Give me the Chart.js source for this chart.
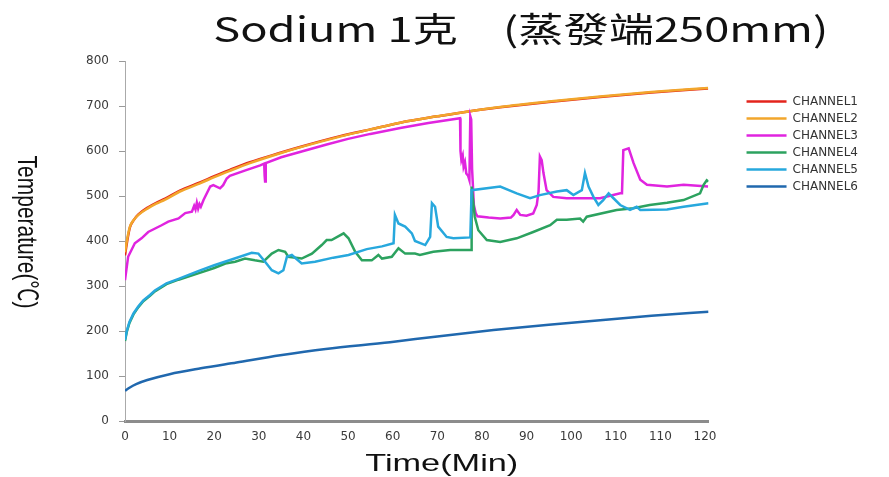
<!DOCTYPE html>
<html>
<head>
<meta charset="utf-8">
<title>Sodium 1克 (蒸發端250mm)</title>
<script src="https://cdn.jsdelivr.net/npm/chart.js@4.4.1/dist/chart.umd.min.js"></script>
<style>
  body { margin: 0; background: #fff; }
</style>
</head>
<body>
<canvas id="chart" width="889" height="477"></canvas>
<script>
const mainTitle = "Sodium 1克\u3000(蒸發端250mm)";
const xTitle = "Time(Min)";
const yTitle = "Temperature(℃)";
const channelNames = ["CHANNEL1", "CHANNEL2", "CHANNEL3", "CHANNEL4", "CHANNEL5", "CHANNEL6"];
const channelColors = ["#e3241c", "#f2a62c", "#e024df", "#2ca25f", "#27a8dd", "#2068ae"];
// the original axis is labelled with two "110" ticks, so the labels are kept as they are
const xTickLabels = ["0", "10", "20", "30", "40", "50", "60", "70", "80", "90", "100", "110", "110", "120"];

// [time position, temperature]
const channel1 = [[0,368],[0.5,400],[1.1,430],[2,447],[3,459],[5.2,475],[7,485],[9,494],[12.3,512],[16.8,530],[20,544],[23.5,558],[28,575],[34.8,596],[39.2,609],[48.2,633],[55,648],[61.7,663],[70,677],[77,688],[84.1,697],[95,709],[106.5,720],[118,730],[130.7,739]];
const channel2 = [[0,375],[0.5,405],[1.1,432],[2,447],[3,458],[5.2,473],[7,483],[9,492],[12.3,510],[16.8,528],[20,542],[23.5,556],[28,573],[34.8,595],[39.2,608],[48.2,632],[55,648],[61.7,663],[70,677],[77,688],[84.1,698],[95,710],[106.5,721],[118,731],[130.7,740]];
const channel3 = [[0,313],[0.7,365],[2.2,395],[3.7,406],[5.2,420],[8.2,435],[9.7,443],[12,450],[13.5,462],[15,465],[15.5,478],[15.8,470],[16.1,485],[16.4,472],[16.7,482],[17,476],[17.6,491],[19.1,521],[19.8,524],[21.3,517],[22,524],[22.8,539],[23.5,545],[27,557],[30.3,568],[31.2,572],[31.3,545],[31.4,532],[31.5,558],[31.6,573],[35,586],[40,600],[45,614],[50,627],[55,638],[61.7,651],[68,662],[75.1,673],[75.2,600],[75.4,580],[75.7,590],[75.9,565],[76.2,575],[76.5,550],[76.9,545],[77.2,535],[77.4,677],[77.6,670],[77.8,560],[78.2,480],[78.6,462],[79,455],[81.5,452],[84.1,450],[86.5,452],[87.1,458],[87.8,469],[88.6,458],[90,456],[91.5,461],[92.3,480],[92.7,510],[93,588],[93.4,580],[93.8,551],[94.5,513],[96,498],[99,495],[106.5,495],[111,506],[111.4,506],[111.7,602],[112.9,606],[114,573],[115.5,536],[117,525],[121.5,521],[125.2,525],[130.7,521]];
const channel4 = [[0,178],[0.4,198],[1,218],[1.9,237],[3,253],[4.1,266],[5.6,278],[6.7,288],[9.3,304],[12,314],[16.4,328],[20,340],[22.5,350],[24.7,354],[26.9,361],[29.1,357],[31,354],[32.9,372],[34.4,380],[35.9,376],[36.6,365],[39.6,361],[41.9,372],[44.1,391],[45.2,402],[46.3,402],[49,417],[50.1,406],[51.6,376],[53.1,357],[55.3,357],[56.8,369],[57.6,361],[59.8,365],[61.3,384],[62.8,372],[65,372],[66.1,369],[69.1,376],[72.9,380],[77.6,380],[77.7,521],[78.4,454],[79.2,424],[81.1,402],[84.1,398],[87.8,406],[91.5,420],[95.3,435],[96.8,447],[99,447],[102,450],[102.7,443],[103.5,454],[110.2,469],[113.9,473],[117.6,480],[121.5,485],[125.2,491],[128.9,506],[129.7,525],[130.4,535],[130.8,532]];
const channel5 = [[0,180],[0.4,200],[1,220],[1.9,239],[3,255],[4.1,268],[5.6,280],[6.7,290],[9.3,306],[12,316],[16.4,333],[20,346],[23.9,359],[28.4,374],[29.9,372],[31.4,354],[32.9,335],[34.4,328],[35.5,335],[36.3,365],[37.4,369],[39.6,350],[42.6,354],[46.7,363],[50.1,369],[54.2,382],[57.6,388],[60.2,395],[60.5,458],[61.3,439],[62.8,432],[64.3,417],[65,400],[67.3,391],[68.4,409],[68.8,484],[69.5,476],[70.2,432],[72.1,409],[73.6,406],[77.4,408],[77.7,513],[84.1,521],[87.8,506],[90.8,495],[93,502],[96.8,510],[99,513],[100.5,502],[102.4,513],[103.1,551],[103.9,521],[105,498],[106.1,480],[107.2,491],[108.4,506],[109.5,495],[111,480],[113.2,469],[114.7,476],[115.5,469],[121.5,470],[125.2,476],[130.8,484]];
const channel6 = [[0,67],[1,74],[2.5,82],[5,91],[10,104],[17,117],[25,130],[34.8,146],[45,160],[59.4,175],[70,188],[82.6,202],[95,214],[106.5,224],[118,234],[130.8,243]];

const channels = [channel1, channel2, channel3, channel4, channel5, channel6];
const smoothChannels = [true, true, false, false, false, true];

function toPoints(list) {
  return list.map((p) => ({ x: p[0], y: p[1] }));
}

// the picture's text looks stretched sideways, so it is drawn scaled on x
function drawText(ctx, text, x, y, font, sx, angle, width) {
  ctx.save();
  ctx.font = font;
  if (width) sx = width / ctx.measureText(text).width;
  ctx.translate(x, y);
  ctx.scale(sx, 1);
  ctx.rotate(angle);
  ctx.fillStyle = "#111";
  ctx.textAlign = "center";
  ctx.textBaseline = "middle";
  ctx.fillText(text, 0, 0);
  ctx.restore();
}

const textPlugin = {
  id: "texts",
  afterDraw(chart) {
    const ctx = chart.ctx;
    const area = chart.chartArea;
    const mid = (area.left + area.right) / 2;
    drawText(ctx, mainTitle, mid + 104, 29, '34px "Noto Sans CJK TC"', 1, 0, 615);
    drawText(ctx, xTitle, mid + 25, 464, '24px "Liberation Sans"', 1, 0, 153);
    drawText(ctx, yTitle, 26, (area.top + area.bottom) / 2 - 9, '21px "Liberation Sans", "Noto Sans CJK TC"', 1.3, Math.PI / 2);
  },
};

const datasets = channels.map((list, i) => ({
  label: channelNames[i],
  data: toPoints(list),
  borderColor: channelColors[i],
  backgroundColor: channelColors[i],
  borderWidth: 2.5,
  pointRadius: 0,
  cubicInterpolationMode: smoothChannels[i] ? "monotone" : "default",
  tension: 0,
  order: channels.length - i,
}));

const tickFont = { family: "DejaVu Sans", size: 12 };

new Chart(document.getElementById("chart"), {
  type: "line",
  data: { datasets: datasets },
  options: {
    responsive: false,
    animation: false,
    layout: { padding: { top: 61, right: 21, bottom: 0, left: 0 } },
    plugins: {
      legend: {
        position: "right",
        align: "start",
        title: { display: true, text: "", font: { size: 13 }, padding: { top: 0, bottom: 14 } },
        labels: {
          usePointStyle: true,
          pointStyle: "line",
          pointStyleWidth: 40,
          boxWidth: 40,
          padding: 5,
          color: "#333",
          font: { family: "DejaVu Sans", size: 12 },
          sort: (a, b) => a.datasetIndex - b.datasetIndex,
        },
      },
      tooltip: { enabled: false },
    },
    scales: {
      x: {
        type: "linear",
        min: 0,
        max: 130.8,
        grid: { display: false, drawTicks: false },
        border: { color: "#8c8c8c", width: 3 },
        ticks: {
          stepSize: 10,
          includeBounds: false,
          autoSkip: false,
          maxRotation: 0,
          padding: 9,
          color: "#3a3a3a",
          font: tickFont,
          callback: (v) => xTickLabels[Math.round(v / 10)],
        },
        afterFit: (s) => { s.height = 56; },
      },
      y: {
        min: 0,
        max: 800,
        ticks: { stepSize: 100, padding: 10, color: "#3a3a3a", font: tickFont },
        grid: { drawOnChartArea: false, tickLength: 6, color: "#999" },
        border: { color: "#aaa", width: 1 },
        afterFit: (s) => { s.width = 125; },
      },
      y2: {
        position: "right",
        grid: { display: false },
        ticks: { display: false },
        border: { display: false },
        afterFit: (s) => { s.width = 33; },
      },
    },
  },
  plugins: [textPlugin],
});
</script>
</body>
</html>
